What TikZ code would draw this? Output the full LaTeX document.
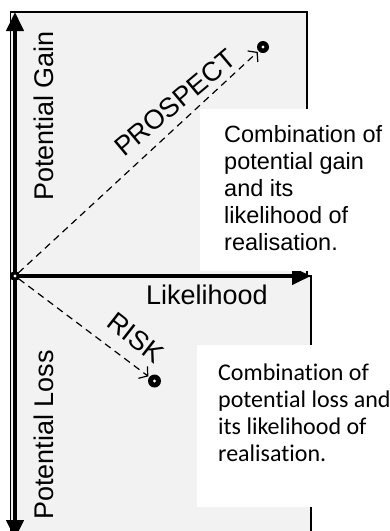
\documentclass[tikz,border=0pt]{standalone}
\usepackage{fontspec}
\setmainfont{Liberation Sans}
\newfontfamily\calfont[Ligatures=NoCommon]{Carlito}
\usetikzlibrary{arrows.meta}
\definecolor{panel}{HTML}{F2F2F2}
\begin{document}
\begin{tikzpicture}[x=1pt,y=-1pt,
  panelbox/.style={fill=panel,draw=black,line width=1.3pt},
  whitebox/.style={fill=white,draw=none},
  axis/.style={line width=4pt,-{Triangle[length=19pt,width=17pt]}},
  vec/.style={line width=1.2pt,dash pattern=on 7pt off 5pt,-{Straight Barb[length=6pt,width=15pt,line width=1.2pt]},shorten >=1pt},
  dot/.style={circle,fill=black,inner sep=0pt,minimum size=#1},
  vlabel/.style={font=\fontsize{27}{32}\selectfont,inner sep=0pt},
  boxtext/.style={font=\fontsize{23.5}{27}\selectfont,align=left,inner sep=0pt,anchor=north west},
  boxtextb/.style={font=\calfont\fontsize{24}{27}\selectfont,align=left,inner sep=0pt,anchor=north west}]
\useasboundingbox (0,0) rectangle (390,531);
% panels
\path[panelbox] (10.5,12) rectangle (307,276);
\path[panelbox] (10.5,276) rectangle (311,560);
% points
\node[dot=9pt] (o) at (15,276) {};
\node[dot=12pt] (p) at (263,47) {};
\node[dot=13pt] (r) at (154.5,381) {};
\coordinate (gaintip) at (15,12);
\coordinate (losstip) at (15,539);
\coordinate (liketip) at (311,276);
% axes
\draw[axis] (o.center) -- (gaintip);
\draw[axis] (o.center) -- (losstip);
\draw[axis] (o.center) -- (liketip);
% white boxes
\path[whitebox] (200,108.5) rectangle (392,271);
\path[whitebox] (197,345) rectangle (392,507);
% vectors
\draw[vec] (o) -- (p);
\draw[vec] (o) -- (r);
\node[dot=10pt] at (o) {};
\fill[white] (o) circle (1.6pt);
\fill[white] (p) circle (1.6pt);
\fill[white] (r) circle (1.6pt);
% labels
\node[vlabel,rotate=90] (gain) at (44,116) {Potential Gain};
\node[vlabel,rotate=90] (loss) at (44,435) {Potential Loss};
\node[vlabel] (like) at (207,295) {Likelihood};
\node[vlabel,rotate=40] (prosl) at (175,103) {PROSPECT};
\node[vlabel,rotate=-38] (riskl) at (136,338) {RISK};
\node[boxtext] (t1) at (224,125) {Combination of\\potential gain\\and its\\likelihood of\\realisation.};
\node[boxtextb] (t2) at (218,364) {Combination of\\potential loss and\\its likelihood of\\realisation.};
\end{tikzpicture}
\end{document}
